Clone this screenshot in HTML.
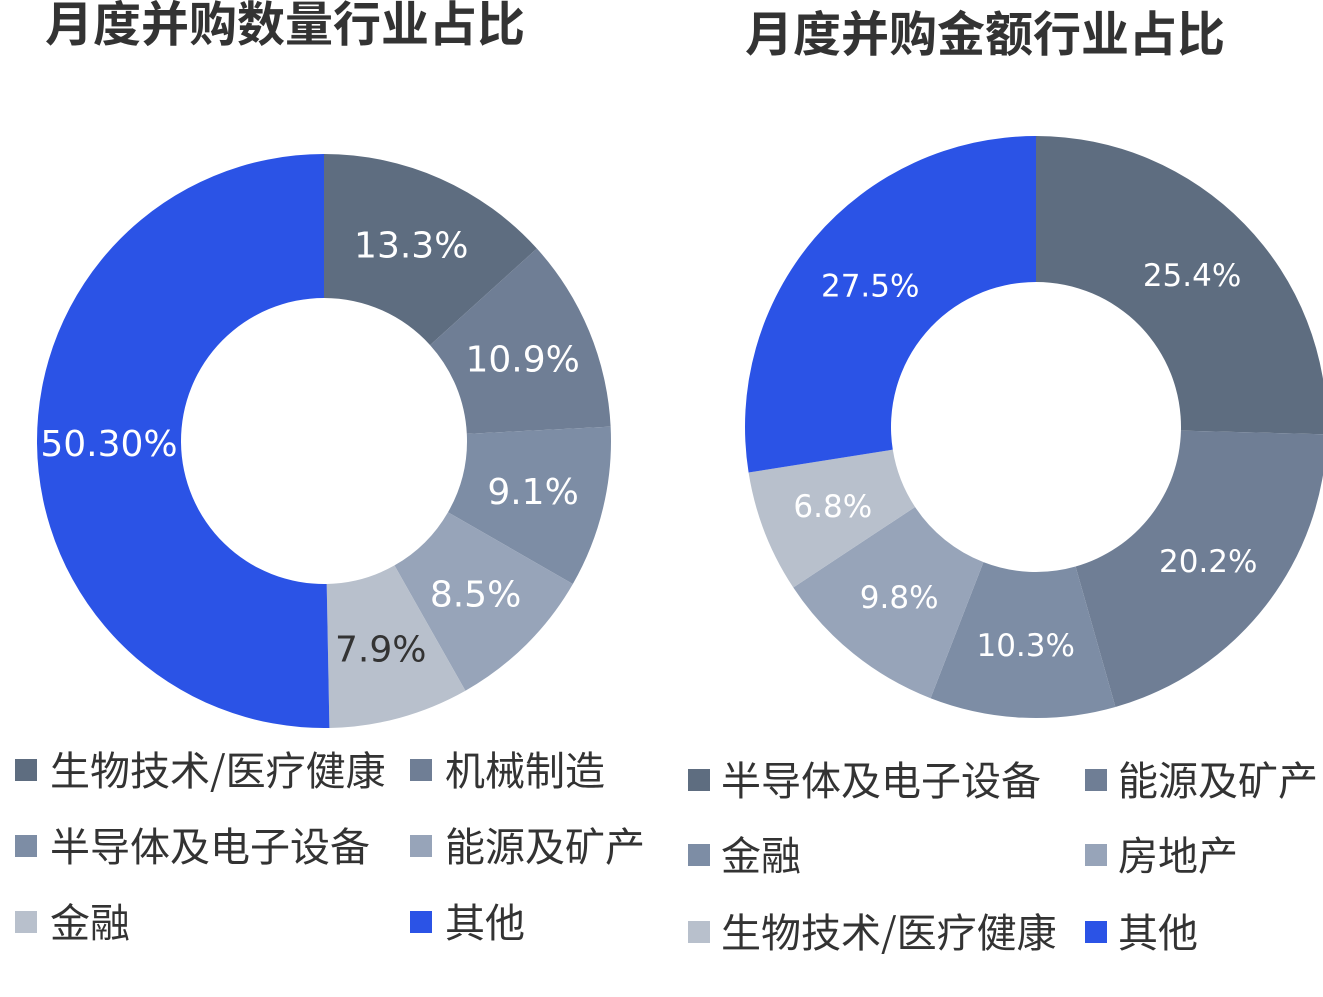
<!DOCTYPE html>
<html><head><meta charset="utf-8"><style>
html,body{margin:0;padding:0;background:#fff;}
body{width:1323px;height:997px;overflow:hidden;position:relative;font-family:"Liberation Sans","Noto Sans CJK SC",sans-serif;}
</style></head><body>
<svg id="chart" width="1323" height="997" viewBox="0 0 1323 997" xmlns="http://www.w3.org/2000/svg" style="position:absolute;left:0;top:0">
<text x="285" y="41" text-anchor="middle" font-size="48" font-weight="bold" fill="#333" font-family="Noto Sans CJK SC, sans-serif">月度并购数量行业占比</text>
<text x="985" y="51" text-anchor="middle" font-size="48" font-weight="bold" fill="#333" font-family="Noto Sans CJK SC, sans-serif">月度并购金额行业占比</text>
<g id="left"></g>
<g id="right"></g>
<g id="legends"></g>
</svg>
<script>
const leftCategories = ["生物技术/医疗健康","机械制造","半导体及电子设备","能源及矿产","金融","其他"];
const leftValues = [13.3,10.9,9.1,8.5,7.9,50.3];
const leftLabels = ["13.3%","10.9%","9.1%","8.5%","7.9%","50.30%"];
const rightCategories = ["半导体及电子设备","能源及矿产","金融","房地产","生物技术/医疗健康","其他"];
const rightValues = [25.4,20.2,10.3,9.8,6.8,27.5];
const rightLabels = ["25.4%","20.2%","10.3%","9.8%","6.8%","27.5%"];
const colors = ["#5e6d80","#6f7e95","#7d8da5","#97a4b9","#b8c0cc","#2b53e6"];
const labelColors = ["#fff","#fff","#fff","#fff","#333","#fff"];
const NS="http://www.w3.org/2000/svg";
function donut(g, cx, cy, ro, ri, values, labels, names, labelColorsArr, fs){
  const total = values.reduce((a,b)=>a+b,0);
  let a0 = 0;
  values.forEach((v,i)=>{
    const a1 = a0 + v/total*2*Math.PI;
    const p=(r,a)=>[cx+r*Math.sin(a), cy-r*Math.cos(a)];
    const large = (a1-a0)>Math.PI?1:0;
    const [x1,y1]=p(ro,a0),[x2,y2]=p(ro,a1),[x3,y3]=p(ri,a1),[x4,y4]=p(ri,a0);
    const path=document.createElementNS(NS,"path");
    path.setAttribute("d",`M${x1},${y1}A${ro},${ro} 0 ${large} 1 ${x2},${y2}L${x3},${y3}A${ri},${ri} 0 ${large} 0 ${x4},${y4}Z`);
    path.setAttribute("fill",colors[i]);
    
    
    g.appendChild(path);
    const am=(a0+a1)/2, [lx,ly]=p((ro+ri)/2,am);
    const t=document.createElementNS(NS,"text");
    t.setAttribute("x",lx);t.setAttribute("y",ly+fs*0.36);
    t.setAttribute("text-anchor","middle");t.setAttribute("font-size",fs);
    t.setAttribute("fill",labelColorsArr[i]);
    t.setAttribute("font-family","DejaVu Sans, sans-serif");
    t.textContent=labels[i];
    
    
    g.appendChild(t);
    a0=a1;
  });
}
donut(document.getElementById("left"),324,441,287,143,leftValues,leftLabels,leftCategories,labelColors,36);
const rLabelColors=["#fff","#fff","#fff","#fff","#fff","#fff"];
donut(document.getElementById("right"),1036,427,291,145,rightValues,rightLabels,rightCategories,rLabelColors,31);
function legend(cats, x0, x1, ys, tx){
  const lg=document.getElementById("legends");
  cats.forEach((c,i)=>{
    const x = i%2===0?x0:x1, y=ys[Math.floor(i/2)];
    const r=document.createElementNS(NS,"rect");
    r.setAttribute("x",x);r.setAttribute("y",y-11);r.setAttribute("width",22);r.setAttribute("height",22);
    r.setAttribute("fill",colors[i]);
    
    
    lg.appendChild(r);
    const t=document.createElementNS(NS,"text");
    t.setAttribute("x",x+tx);t.setAttribute("y",y+15);
    t.setAttribute("font-size","40");t.setAttribute("fill","#333");
    t.setAttribute("font-family","Noto Sans CJK SC, sans-serif");
    t.textContent=c;
    
    
    lg.appendChild(t);
  });
}
legend(leftCategories,15,410,[770,846,922],35);
legend(rightCategories,688,1085,[780,855,932],33);
</script>
</body></html>
